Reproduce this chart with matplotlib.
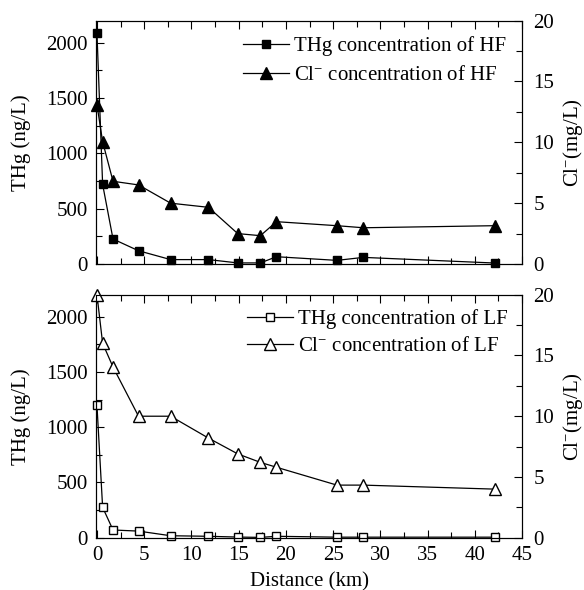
import matplotlib
matplotlib.use("Agg")
import matplotlib.pyplot as plt
from matplotlib.ticker import MultipleLocator

plt.rcParams['font.family'] = ['Liberation Serif', 'DejaVu Serif']
plt.rcParams['mathtext.fontset'] = 'custom'
plt.rcParams['mathtext.rm'] = 'Liberation Serif'
plt.rcParams['mathtext.it'] = 'Liberation Serif:italic'
plt.rcParams['axes.unicode_minus'] = False

# distance along the river (km)
distHF = [0, 0.6, 1.7, 4.4, 7.8, 11.8, 14.9, 17.3, 19.0, 25.4, 28.2, 42.1]
distLF = [0, 0.6, 1.7, 4.4, 7.8, 11.8, 14.9, 17.3, 19.0, 25.4, 28.2, 42.1]

# high flow
thgHF = [2090, 720, 226, 120, 40, 40, 10, 10, 66, 33, 60, 9]
clHF = [13.1, 10.05, 6.8, 6.5, 5.0, 4.66, 2.5, 2.33, 3.48, 3.15, 2.98, 3.15]

# low flow
thgLF = [1200, 275, 70, 60, 18, 13, 6, 3, 13, 5, 5, 5]
clLF = [20.0, 16.0, 14.05, 10.0, 10.0, 8.2, 6.9, 6.2, 5.8, 4.33, 4.33, 4.0]

fs = 15
fig = plt.figure(figsize=(5.84, 5.90), dpi=100)
axTop = fig.add_axes([0.1644, 0.5525, 0.7296, 0.4125])
axBot = fig.add_axes([0.1644, 0.0886, 0.7296, 0.4119])


def style(ax, ax2, showx):
    ax.set_xlim(-0.1, 45)
    ax.set_ylim(0, 2200)
    ax2.set_ylim(0, 20)
    ax.xaxis.set_major_locator(MultipleLocator(5))
    ax.xaxis.set_minor_locator(MultipleLocator(2.5))
    ax.yaxis.set_major_locator(MultipleLocator(500))
    ax.yaxis.set_minor_locator(MultipleLocator(250))
    ax2.yaxis.set_major_locator(MultipleLocator(5))
    ax2.yaxis.set_minor_locator(MultipleLocator(2.5))
    ax.tick_params(which='both', direction='in', top=True, labelsize=fs)
    ax.tick_params(which='major', length=6, width=0.8, pad=6)
    ax.tick_params(which='minor', length=4, width=0.8)
    ax2.tick_params(which='both', direction='in', labelsize=fs)
    ax2.tick_params(which='major', length=6, width=0.8, pad=8)
    ax2.tick_params(which='minor', length=4, width=0.8)
    if not showx:
        ax.tick_params(labelbottom=False)
    ax.set_ylabel('THg (ng/L)', fontsize=fs, labelpad=11)
    ax2.set_ylabel('Cl$^{-}$(mg/L)', fontsize=fs, labelpad=5)


ax2Top = axTop.twinx()
l1, = axTop.plot(distHF, thgHF, '-s', color='black', lw=0.9, ms=5.5,
                 mfc='black', label='THg concentration of HF', clip_on=False)
l2, = ax2Top.plot(distHF, clHF, '-^', color='black', lw=0.9, ms=8,
                  mfc='black', label='Cl$^{-}$ concentration of HF', clip_on=False)
style(axTop, ax2Top, False)
ax2Top.legend(handles=[l1, l2], loc='upper right', bbox_to_anchor=(1.0, 1.0),
              frameon=False, fontsize=fs, handlelength=2.2, handletextpad=0.25,
              labelspacing=0.45, borderaxespad=0.35)

ax2Bot = axBot.twinx()
l3, = axBot.plot(distLF, thgLF, '-s', color='black', lw=0.9, ms=5.5,
                 mfc='white', label='THg concentration of LF', clip_on=False)
l4, = ax2Bot.plot(distLF, clLF, '-^', color='black', lw=0.9, ms=8,
                  mfc='white', label='Cl$^{-}$ concentration of LF', clip_on=False)
style(axBot, ax2Bot, True)
axBot.set_xlabel('Distance (km)', fontsize=fs, labelpad=5)
ax2Bot.legend(handles=[l3, l4], loc='upper right', bbox_to_anchor=(1.0, 1.0),
              frameon=False, fontsize=fs, handlelength=2.2, handletextpad=0.25,
              labelspacing=0.35, borderaxespad=0.3)

fig.savefig('out.png', dpi=100)
